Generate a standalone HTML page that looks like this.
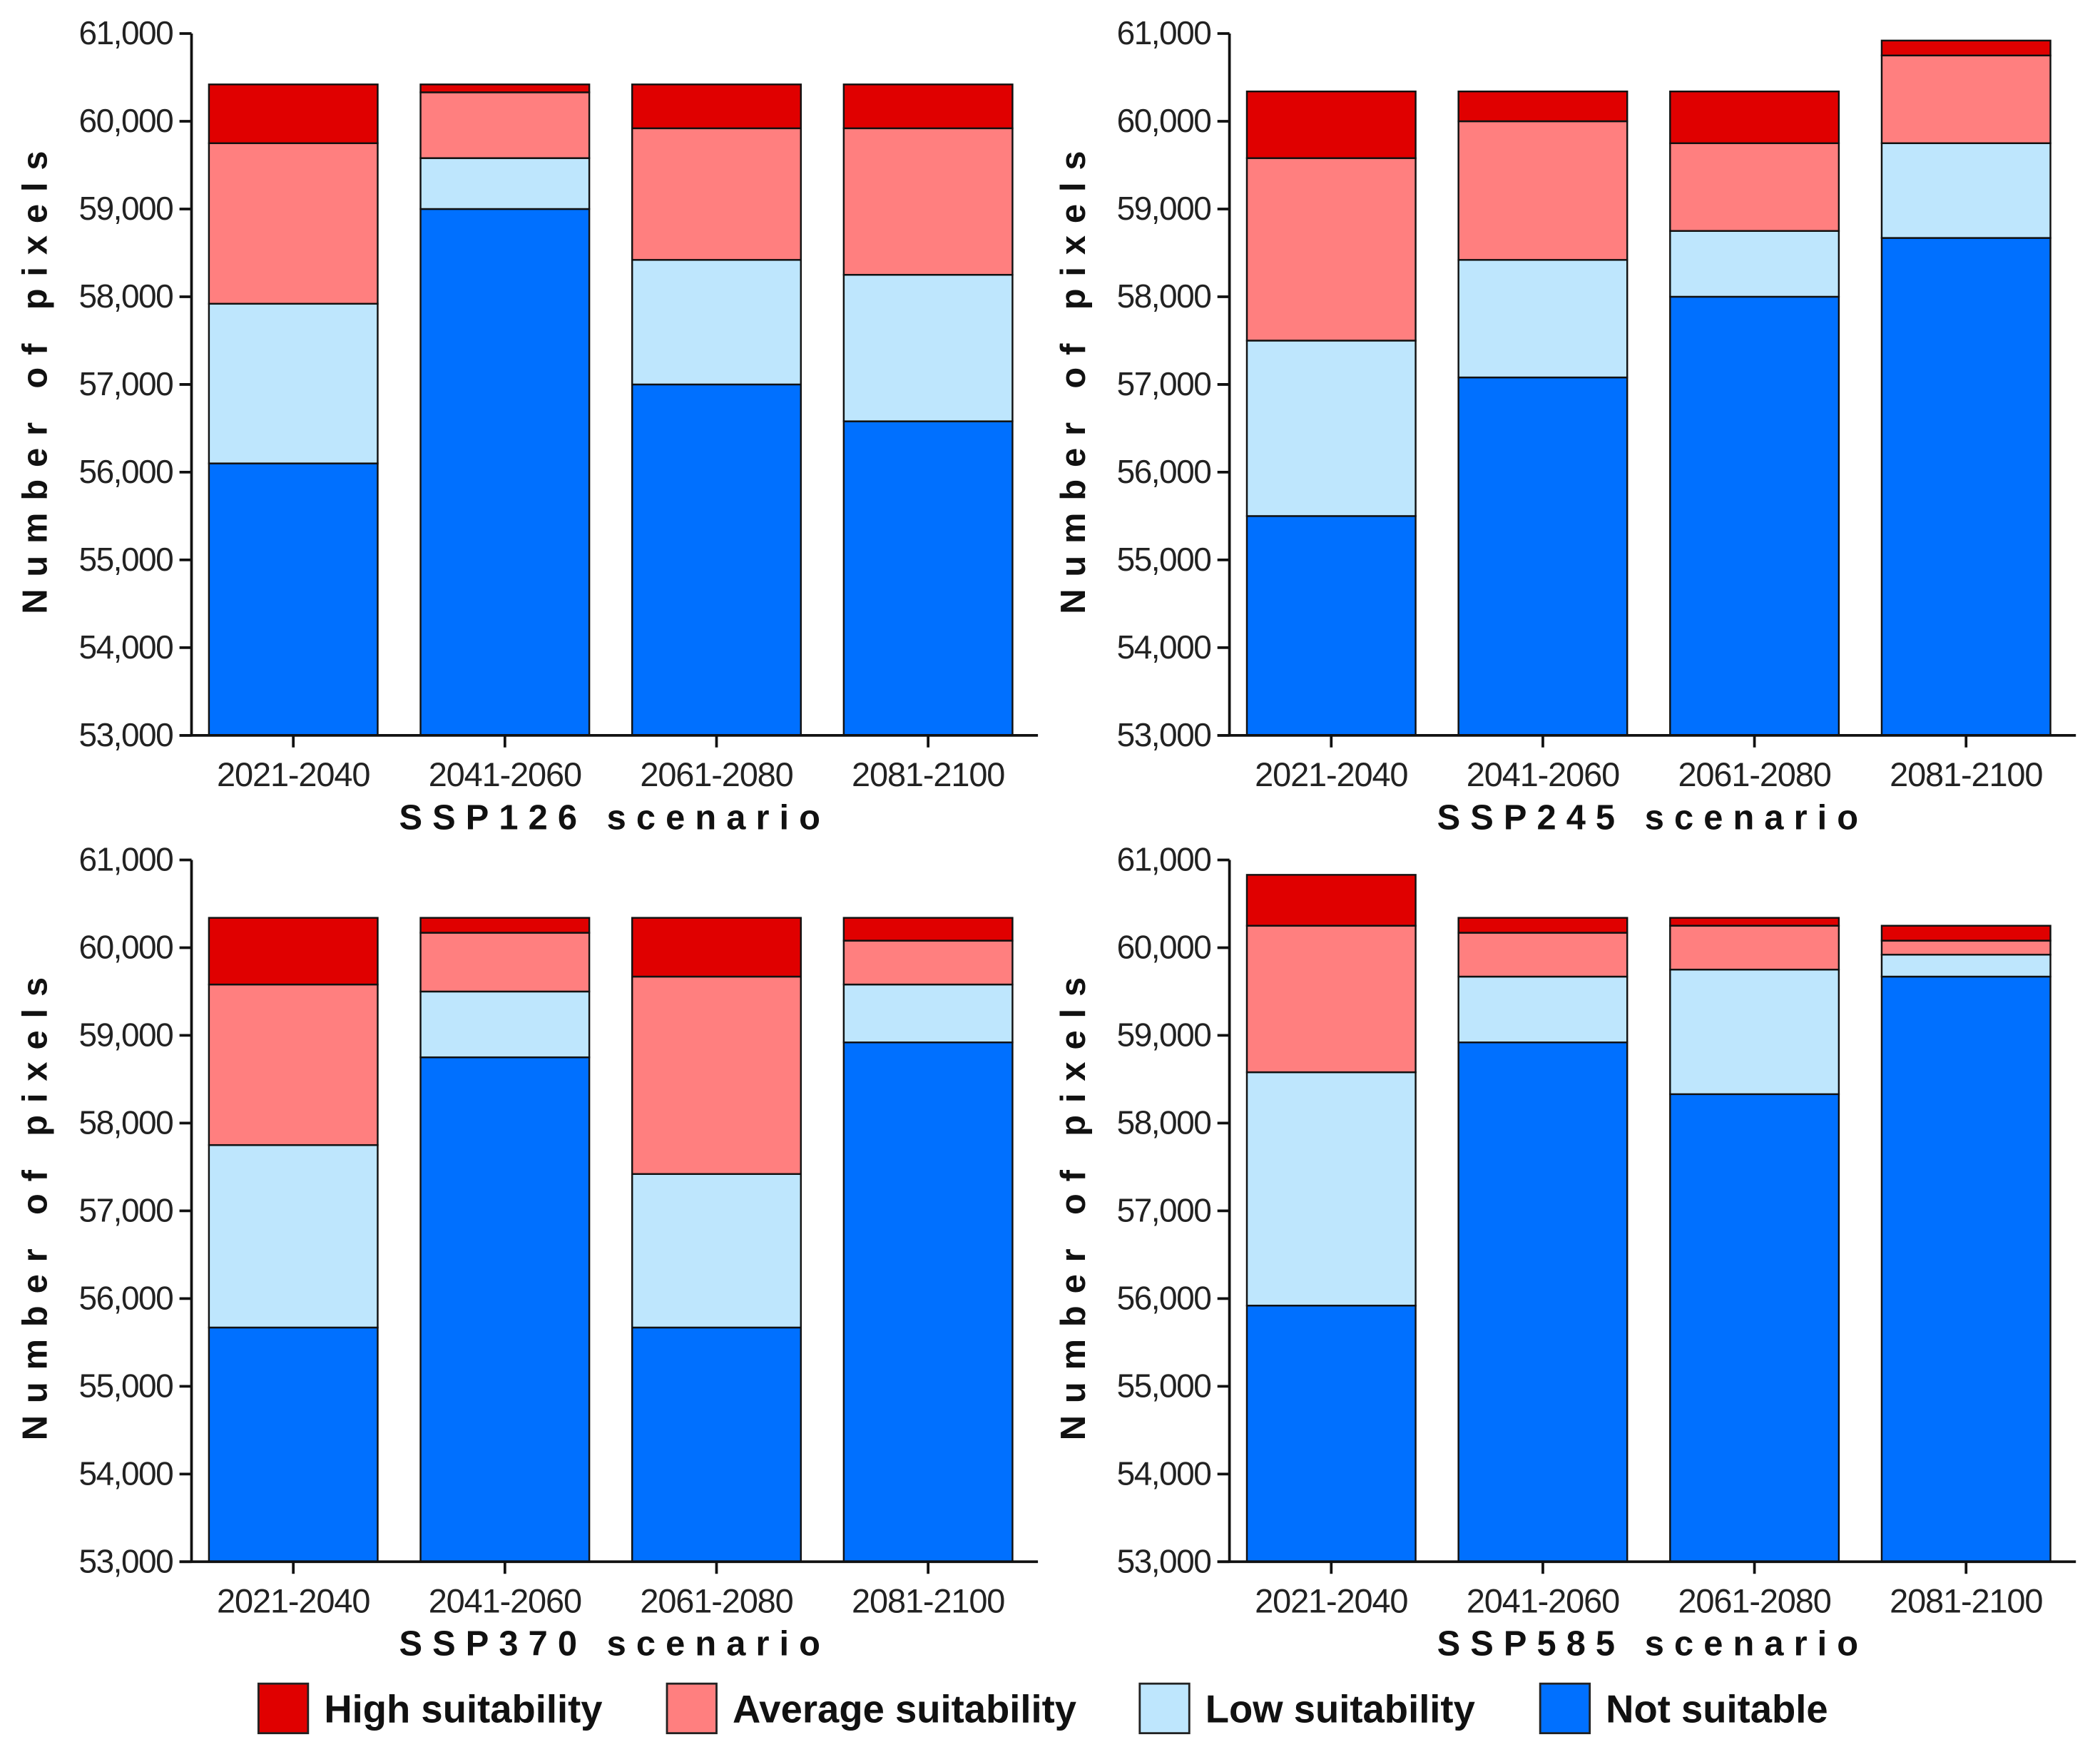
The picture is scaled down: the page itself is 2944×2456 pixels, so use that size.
<!DOCTYPE html>
<html><head><meta charset="utf-8"><style>
html,body{margin:0;padding:0;background:#fff;}
svg{display:block;}
text{font-family:"Liberation Sans",sans-serif;}
</style></head>
<body>
<svg id="chart" width="2944" height="2456" viewBox="0 0 1568 1308" xmlns="http://www.w3.org/2000/svg"></svg>
<script>
const categories = ["2021-2040","2041-2060","2061-2080","2081-2100"];
const scenarios = ["SSP126","SSP245","SSP370","SSP585"];
const seriesNames = ["Not suitable","Low suitability","Average suitability","High suitability"];
const tickValues = [53000,54000,55000,56000,57000,58000,59000,60000,61000];
const tickLabels = ["53,000","54,000","55,000","56,000","57,000","58,000","59,000","60,000","61,000"];
// values per scenario, per category
const notSuitable = [[56100,59000,57000,56580],[55500,57080,58000,58670],[55670,58750,55670,58920],[55920,58920,58330,59670]];
const lowSuit = [[1820,580,1420,1670],[2000,1340,750,1080],[2080,750,1750,660],[2660,750,1420,250]];
const avgSuit = [[1830,750,1500,1670],[2080,1580,1000,1000],[1830,670,2250,500],[1670,500,500,160]];
const highSuit = [[670,90,500,500],[760,340,590,170],[760,170,670,260],[580,170,90,170]];
const colors = ["#0070ff","#bee6fd","#ff7f7f","#e00000"];
const NS = "http://www.w3.org/2000/svg";
const svg = document.getElementById('chart');
function mk(tag, attrs, parent){const e=document.createElementNS(NS,tag);for(const k in attrs)e.setAttribute(k,attrs[k]);(parent||svg).appendChild(e);return e;}
const panels = [{ax:143,top:25,bot:549},{ax:918,top:25,bot:549},{ax:143,top:642,bot:1166},{ax:918,top:642,bot:1166}];
const yMin=53000,yMax=61000;
panels.forEach((p,pi)=>{
  const g = mk('g',{});
  
  
  const y = v => p.bot - (v-yMin)/(yMax-yMin)*(p.bot-p.top);
  const xc = i => p.ax + 76 + i*158;
  const bw = 126;
  categories.forEach((c,i)=>{
    const segs=[notSuitable[pi][i]-yMin,lowSuit[pi][i],avgSuit[pi][i],highSuit[pi][i]];
    let base=yMin;
    segs.forEach((s,si)=>{
      const y0=y(base), y1=y(base+s);
      const r=mk('rect',{x:xc(i)-bw/2,y:y1,width:bw,height:Math.max(0,y0-y1),fill:colors[si],stroke:'#111','stroke-width':1.3},g);
      
      
      base+=s;
    });
  });
  const ya=mk('line',{x1:p.ax,y1:p.top,x2:p.ax,y2:p.bot,stroke:'#111','stroke-width':2},g);
  
  
  const xa=mk('line',{x1:p.ax-9,y1:p.bot,x2:p.ax+632,y2:p.bot,stroke:'#111','stroke-width':2},g);
  
  
  tickValues.forEach((v,ti)=>{
    mk('line',{x1:p.ax-9,y1:y(v),x2:p.ax,y2:y(v),stroke:'#111','stroke-width':2},g);
    const t=mk('text',{x:p.ax-14,y:y(v)+8,'text-anchor':'end','font-size':24.5,'letter-spacing':-0.8,fill:'#222'},g);
    t.textContent=tickLabels[ti];
    
    
  });
  categories.forEach((c,i)=>{
    mk('line',{x1:xc(i),y1:p.bot,x2:xc(i),y2:p.bot+9,stroke:'#111','stroke-width':2},g);
    const t=mk('text',{x:xc(i),y:p.bot+38,'text-anchor':'middle','font-size':25,'letter-spacing':-0.6,fill:'#222'},g);
    t.textContent=c;
    
    
  });
  const xt=mk('text',{x:p.ax+316,y:p.bot+70,'text-anchor':'middle','font-size':26,'font-weight':'bold','letter-spacing':7.5,fill:'#111'},g);
  xt.textContent=scenarios[pi]+' scenario';
  
  
  const cy=(p.top+p.bot)/2-6;
  const yt=mk('text',{x:0,y:0,transform:`translate(${p.ax-108},${cy}) rotate(-90)`,'text-anchor':'middle','font-size':26,'font-weight':'bold','letter-spacing':9,fill:'#111'},g);
  yt.textContent='Number of pixels';
  
  
});
const legX=[193,498,851,1150];
const legOrder=[3,2,1,0];
legOrder.forEach((si,k)=>{
  const lg=mk('g',{});
  
  
  mk('rect',{x:legX[k],y:1257,width:37,height:37,fill:colors[si],stroke:'#222','stroke-width':1.5},lg);
  const t=mk('text',{x:legX[k]+49,y:1286,'font-size':29,'font-weight':'bold',fill:'#111'},lg);
  t.textContent=seriesNames[si];
});
</script>
</body></html>
